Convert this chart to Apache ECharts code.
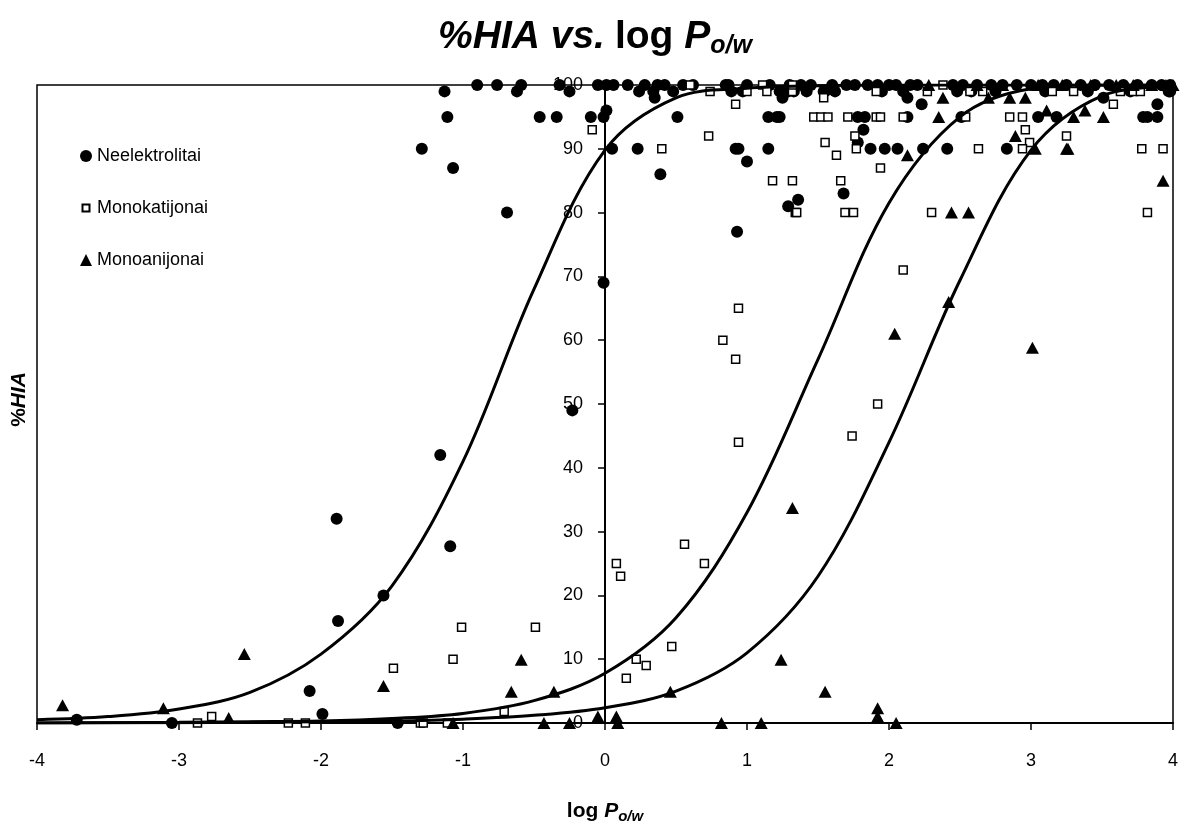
<!DOCTYPE html>
<html>
<head>
<meta charset="utf-8">
<title>%HIA vs. log Po/w</title>
<script src="https://cdn.jsdelivr.net/npm/echarts@6/dist/echarts.min.js"></script>
<style>
	html, body { margin: 0; padding: 0; background: #fff; }
	#chart { width: 1180px; height: 829px; }
</style>
</head>
<body>
<div id="chart"></div>
<script>
// axis ticks
const xTicks = [-4, -3, -2, -1, 0, 1, 2, 3, 4];
const yTicks = [0, 10, 20, 30, 40, 50, 60, 70, 80, 90, 100];

// fitted curves
const curveX = [-4, -3.5, -3, -2.5, -2, -1.5, -1, -0.5, 0, 0.5, 1, 1.5, 2, 2.5, 3, 3.5, 4];
const curveNeutral = [0.5, 1.0, 2.2, 4.8, 10.8, 21.5, 41, 68, 89.8, 98, 99.5, 99.9, 100, 100, 100, 100, 100];
const curveCation = [0, 0.05, 0.1, 0.2, 0.3, 0.7, 1.5, 3.5, 7.8, 16.5, 33, 57, 81.5, 95, 99.4, 100, 100];
const curveAnion = [0, 0.02, 0.05, 0.1, 0.2, 0.3, 0.6, 1.2, 2.4, 5, 11, 23, 44, 69.4, 89.8, 98.3, 99.8];

// Neelektrolitai
const neutralPts = [
	[-3.72, 0.5], [-3.05, 0], [-2.08, 5], [-1.99, 1.4], [-1.88, 16], [-1.56, 20], [-1.46, 0],
	[-1.89, 32], [-1.16, 42], [-1.09, 27.7], [-0.69, 80], [-1.29, 90], [-1.13, 99], [-1.11, 95],
	[-1.07, 87], [-0.9, 100], [-0.76, 100], [-0.59, 100], [-0.62, 99], [-0.46, 95], [-0.34, 95],
	[-0.32, 100], [-0.25, 99], [-0.1, 95], [-0.01, 95], [0.01, 96], [-0.01, 69], [-0.23, 49],
	[-0.05, 100], [0.01, 100], [0.06, 100], [0.16, 100], [0.28, 100], [0.24, 99], [0.37, 100],
	[0.42, 100], [0.35, 98], [0.34, 99], [0.51, 95], [0.55, 100], [0.62, 100], [0.48, 99],
	[0.05, 90], [0.23, 90], [0.39, 86], [0.85, 100], [0.87, 100], [0.89, 99], [1.0, 100],
	[0.97, 99], [0.92, 90], [0.94, 90], [1.0, 88], [0.93, 77], [1.15, 95], [1.21, 95], [1.15, 90],
	[1.16, 100], [1.23, 99], [1.25, 98], [1.29, 81], [1.36, 82], [1.33, 99], [1.54, 99],
	[2.13, 98], [2.23, 97], [1.23, 95], [1.78, 95], [1.83, 95], [2.13, 95], [2.51, 95],
	[3.05, 95], [3.18, 95], [3.82, 95], [3.89, 95], [3.89, 97], [1.82, 93], [1.78, 91],
	[1.87, 90], [1.97, 90], [2.06, 90], [2.24, 90], [2.41, 90], [2.83, 90], [3.51, 98],
	[1.68, 83], [3.98, 99], [3.79, 95],
	[1.3, 100], [1.38, 100], [1.45, 100], [1.6, 100], [1.7, 100], [1.76, 100], [1.85, 100],
	[1.92, 100], [2.0, 100], [2.05, 100], [2.15, 100], [2.2, 100], [2.45, 100], [2.52, 100],
	[2.62, 100], [2.72, 100], [2.8, 100], [2.9, 100], [3.0, 100], [3.08, 100], [3.16, 100],
	[3.25, 100], [3.35, 100], [3.45, 100], [3.55, 100], [3.65, 100], [3.75, 100], [3.85, 100],
	[3.92, 100], [3.98, 100],
	[1.29, 99], [1.42, 99], [1.55, 99], [1.62, 99], [1.95, 99], [2.1, 99], [2.48, 99],
	[2.58, 99], [2.75, 99], [3.1, 99], [3.4, 99], [3.7, 99], [3.97, 99]
];

// Monokatijonai
const cationPts = [
	[-2.87, 0], [-2.77, 1], [-2.23, 0], [-2.11, 0], [-1.49, 8.6], [-1.3, 0], [-1.28, 0],
	[-1.11, 0], [-1.07, 10], [-1.01, 15], [-0.71, 1.8], [-0.49, 15], [0.08, 25], [0.11, 23],
	[0.15, 7], [0.22, 10], [0.29, 9], [0.47, 12], [0.7, 25], [0.56, 28], [0.94, 65], [0.83, 60],
	[0.92, 57], [0.94, 44], [1.92, 50], [1.74, 45], [2.1, 71], [-0.09, 93], [0.4, 90], [0.73, 92],
	[0.74, 99], [0.92, 97], [1.11, 100], [1.14, 99], [1.18, 85], [1.32, 85], [1.34, 80],
	[1.32, 99], [1.32, 100], [1.54, 98], [1.47, 95], [1.52, 95], [1.57, 95], [1.71, 95],
	[1.91, 95], [1.94, 95], [2.1, 95], [1.55, 91], [1.63, 89], [1.76, 92], [1.77, 90], [1.94, 87],
	[1.66, 85], [1.35, 80], [1.69, 80], [1.75, 80], [2.3, 80], [2.54, 95], [2.85, 95], [2.94, 95],
	[2.96, 93], [2.99, 91], [2.63, 90], [2.94, 90], [3.25, 92], [3.58, 97], [3.78, 90], [3.93, 90],
	[3.82, 80], [1.91, 99], [2.27, 99], [2.38, 100], [2.57, 99], [2.66, 99], [3.15, 99], [3.3, 99],
	[3.63, 99], [3.72, 99], [3.77, 99], [0.6, 100], [1.0, 99]
];

// Monoanijonai
const anionPts = [
	[-3.82, 2.8], [-3.11, 2.3], [-2.65, 0.8], [-2.54, 10.8], [-1.56, 5.8], [-1.07, 0], [-0.66, 4.9],
	[-0.59, 9.9], [-0.43, 0], [-0.36, 4.9], [-0.25, 0], [-0.05, 1], [0.08, 1], [0.09, 0],
	[0.46, 4.9], [0.82, 0], [1.1, 0], [1.24, 9.9], [1.55, 4.9], [1.92, 2.3], [1.92, 1], [2.05, 0],
	[1.32, 33.7], [2.04, 61], [2.42, 66], [3.01, 58.8], [2.13, 89], [2.35, 95], [2.38, 98],
	[2.28, 100], [2.44, 80], [2.56, 80], [2.7, 98], [2.85, 98], [2.96, 98], [2.89, 92], [3.03, 90],
	[3.26, 90], [3.25, 90], [3.11, 96], [3.3, 95], [3.38, 96], [3.51, 95], [3.93, 85],
	[2.62, 100], [2.8, 100], [3.05, 100], [3.22, 100], [3.42, 100], [3.6, 100], [3.72, 100],
	[3.85, 100], [3.95, 100], [4.0, 100]
];

const FONT = "'Liberation Sans', Arial, sans-serif";

function curveData(ys) {
	return curveX.map((x, i) => [x, ys[i]]);
}

var chart = echarts.init(document.getElementById("chart"));

// plot area, in pixels
const gridLeft = 37;
const gridWidth = 1136;

let lineStyle = { color: "#000", width: 3 };

let option = {
	animation: false,
	backgroundColor: "#fff",
	title: {
		text: "{i|%HIA vs.}  {b|log }{i|P}{sub|o/w}",
		left: 590,
		textAlign: "center",
		top: 10,
		textStyle: {
			rich: {
				i: { fontFamily: FONT, fontSize: 39, fontWeight: "bold", fontStyle: "italic", color: "#000" },
				b: { fontFamily: FONT, fontSize: 39, fontWeight: "bold", color: "#000" },
				sub: { fontFamily: FONT, fontSize: 25, fontWeight: "bold", fontStyle: "italic", color: "#000", padding: [19, 0, 0, 0] },
			},
		},
	},
	legend: {
		orient: "vertical",
		left: 74,
		top: 141,
		itemWidth: 12,
		itemHeight: 12,
		itemGap: 32,
		data: [
			"Neelektrolitai",
			// smaller hollow square, as in the reference key
			{ name: "Monokatijonai", icon: "path://M0 0M12 12M2.5 2.5L9.5 2.5L9.5 9.5L2.5 9.5Z" },
			"Monoanijonai",
		],
		textStyle: { fontFamily: FONT, fontSize: 18, color: "#000", lineHeight: 20 },
	},
	grid: {
		left: gridLeft,
		width: gridWidth,
		top: 85,
		bottom: 106,
		show: true,
		borderColor: "#000",
		borderWidth: 1.5,
		containLabel: false,
		outerBoundsMode: "none",
	},
	xAxis: {
		type: "value",
		min: -4,
		max: 4,
		interval: 1,
		name: "{b|log }{i|P}{sub|o/w}",
		nameLocation: "middle",
		nameGap: 76,
		nameTextStyle: {
			rich: {
				i: { fontFamily: FONT, fontSize: 21, fontWeight: "bold", fontStyle: "italic", color: "#000" },
				b: { fontFamily: FONT, fontSize: 21, fontWeight: "bold", color: "#000" },
				sub: { fontFamily: FONT, fontSize: 15, fontWeight: "bold", fontStyle: "italic", color: "#000", padding: [10, 0, 0, 0] },
			},
		},
		axisLine: { lineStyle: { color: "#000", width: 2 } },
		axisTick: { length: 7, lineStyle: { color: "#000", width: 1.5 } },
		axisLabel: { fontFamily: FONT, fontSize: 18, color: "#000", margin: 29 },
		splitLine: { show: false },
	},
	yAxis: {
		type: "value",
		min: 0,
		max: 100,
		interval: 10,
		// the y axis crosses at log P = 0
		offset: -gridWidth / 2,
		axisLine: { show: true, onZero: false, lineStyle: { color: "#000", width: 2 } },
		axisTick: { show: true, length: 7, lineStyle: { color: "#000", width: 1.5 } },
		axisLabel: { fontFamily: FONT, fontSize: 18, color: "#000", margin: 22 },
		splitLine: { show: false },
	},
	graphic: [
		{
			type: "text",
			left: 9,
			top: 372,
			rotation: Math.PI / 2,
			style: {
				text: "{b|%}{i|HIA}",
				rich: {
					b: { fontFamily: FONT, fontSize: 21, fontWeight: "bold", fill: "#000" },
					i: { fontFamily: FONT, fontSize: 21, fontWeight: "bold", fontStyle: "italic", fill: "#000" },
				},
			},
		},
	],
	series: [
		{
			name: "Neelektrolitai",
			type: "scatter",
			symbol: "circle",
			symbolSize: 12,
			clip: false,
			itemStyle: { color: "#000", opacity: 1 },
			data: neutralPts,
			z: 3,
		},
		{
			name: "Monokatijonai",
			type: "scatter",
			symbol: "rect",
			symbolSize: 8,
			clip: false,
			itemStyle: { color: "#fff", borderColor: "#000", borderWidth: 1.5, opacity: 1 },
			data: cationPts,
			z: 3,
		},
		{
			name: "Monoanijonai",
			type: "scatter",
			symbol: "triangle",
			symbolSize: [13, 12],
			clip: false,
			itemStyle: { color: "#000", opacity: 1 },
			data: anionPts,
			z: 3,
		},
		{
			name: "fit1",
			type: "line",
			smooth: 0.35,
			showSymbol: false,
			lineStyle: lineStyle,
			data: curveData(curveNeutral),
			z: 4,
		},
		{
			name: "fit2",
			type: "line",
			smooth: 0.35,
			showSymbol: false,
			lineStyle: lineStyle,
			data: curveData(curveCation),
			z: 4,
		},
		{
			name: "fit3",
			type: "line",
			smooth: 0.35,
			showSymbol: false,
			lineStyle: lineStyle,
			data: curveData(curveAnion),
			z: 4,
		},
	],
};

chart.setOption(option);
</script>
</body>
</html>
